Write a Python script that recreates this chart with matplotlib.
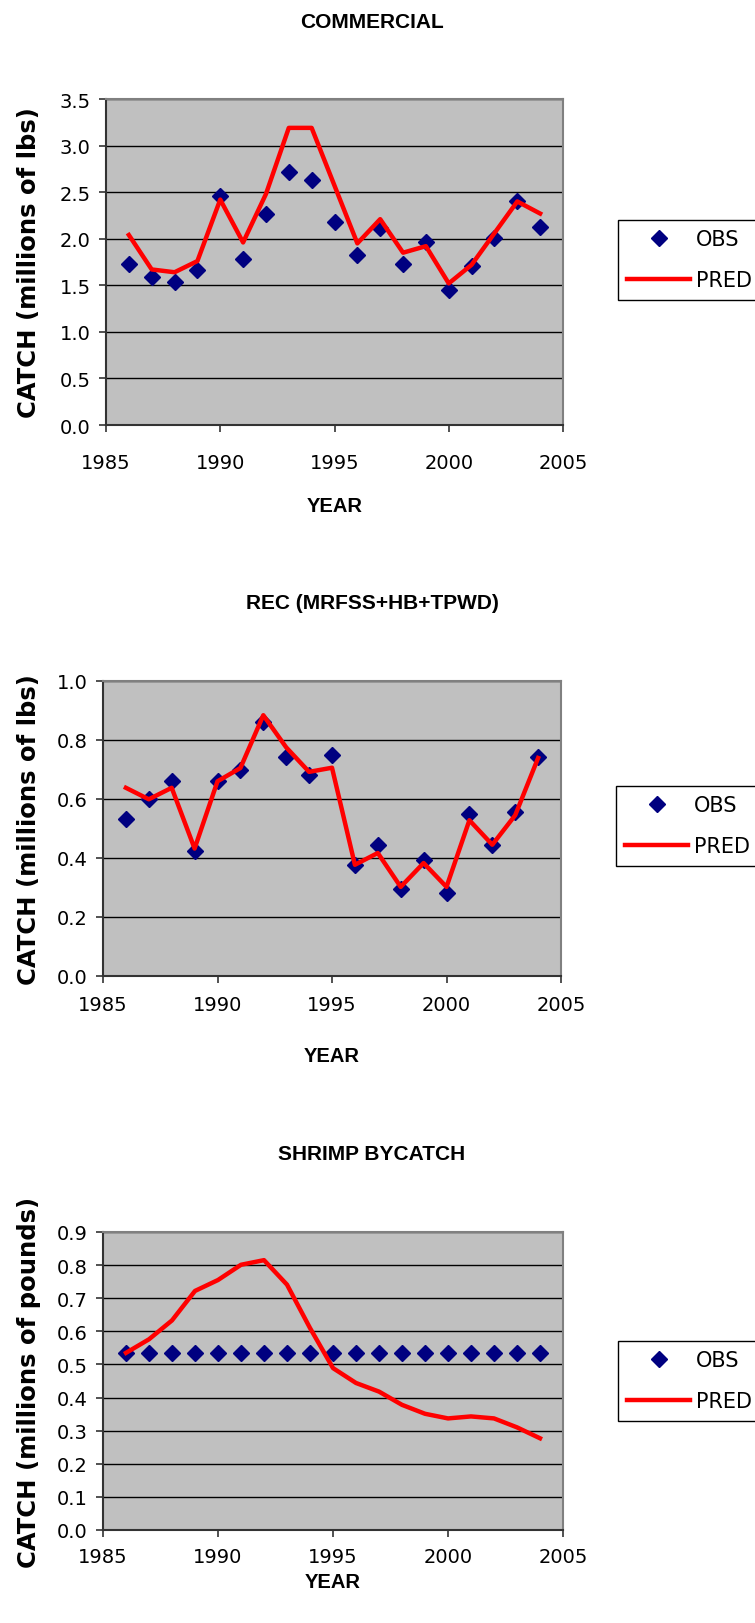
import matplotlib
matplotlib.use("Agg")
import matplotlib.pyplot as plt

years = [1986, 1987, 1988, 1989, 1990, 1991, 1992, 1993, 1994, 1995,
         1996, 1997, 1998, 1999, 2000, 2001, 2002, 2003, 2004]

comm_obs = [1.73, 1.59, 1.54, 1.66, 2.46, 1.78, 2.27, 2.72, 2.63, 2.18,
            1.82, 2.11, 1.73, 1.96, 1.45, 1.71, 2.01, 2.41, 2.13]
comm_pred = [2.04, 1.67, 1.64, 1.76, 2.42, 1.96, 2.48, 3.19, 3.19, 2.57,
             1.95, 2.21, 1.85, 1.92, 1.52, 1.72, 2.06, 2.40, 2.27]

rec_obs = [0.533, 0.599, 0.660, 0.423, 0.660, 0.697, 0.861, 0.742, 0.680, 0.748,
           0.375, 0.445, 0.296, 0.392, 0.281, 0.548, 0.445, 0.556, 0.741]
rec_pred = [0.638, 0.599, 0.638, 0.432, 0.660, 0.705, 0.884, 0.775, 0.692, 0.706,
            0.377, 0.417, 0.302, 0.383, 0.302, 0.528, 0.445, 0.545, 0.739]

shrimp_obs = [0.535, 0.535, 0.535, 0.535, 0.535, 0.535, 0.535, 0.535, 0.535, 0.535,
              0.535, 0.535, 0.535, 0.535, 0.535, 0.535, 0.535, 0.535, 0.535]
shrimp_pred = [0.535, 0.576, 0.633, 0.722, 0.755, 0.801, 0.815, 0.741, 0.610, 0.489,
               0.444, 0.418, 0.378, 0.351, 0.337, 0.343, 0.337, 0.310, 0.277]

W, H = 755, 1624
fig = plt.figure(figsize=(W / 100, H / 100), dpi=100)

# (title, ylabel, obs, pred, ymax, ystep, axes box in px [l, t, r, b],
#  title y, x tick pad, YEAR y, legend top-left px)
panels = [
    ("COMMERCIAL", "CATCH (millions of lbs)", comm_obs, comm_pred, 3.5, 0.5,
     (106, 100, 563, 426), 23, 15, 506, (618, 221)),
    ("REC (MRFSS+HB+TPWD)", "CATCH (millions of lbs)", rec_obs, rec_pred, 1.0, 0.2,
     (103, 682, 561, 977), 604, 9, 1057, (616, 787)),
    ("SHRIMP BYCATCH", "CATCH (millions of pounds)", shrimp_obs, shrimp_pred, 0.9, 0.1,
     (103, 1233, 563, 1531), 1154, 7, 1583, (618, 1342)),
]

for title, ylab, obs, pred, ymax, ystep, box, ty, xpad, yy, leg in panels:
    l, t, r, b = box
    ax = fig.add_axes([l / W, 1 - b / H, (r - l) / W, (b - t) / H])
    ax.set_facecolor("#C0C0C0")
    ax.plot(years, obs, linestyle="none", marker="D", markersize=8.5,
            color="#000080", label="OBS", zorder=3)
    ax.plot(years, pred, color="#FF0000", linewidth=3.2, label="PRED", zorder=4)
    ax.set_xlim(1985, 2005)
    ax.set_ylim(0, ymax)
    ax.set_xticks([1985, 1990, 1995, 2000, 2005])
    n = int(round(ymax / ystep))
    ax.set_yticks([i * ystep for i in range(n + 1)])
    ax.set_yticklabels(["%.1f" % (i * ystep) for i in range(n + 1)])
    ax.grid(axis="y", color="black", linewidth=1)
    ax.set_axisbelow(True)
    for s in ("top", "right"):
        ax.spines[s].set_color("#808080")
        ax.spines[s].set_linewidth(1.5)
    for s in ("left", "bottom"):
        ax.spines[s].set_color("#333333")
        ax.spines[s].set_linewidth(1.5)
    ax.tick_params(axis="both", direction="out", length=5, width=1.2,
                   color="#333333", labelsize=14)
    ax.tick_params(axis="y", pad=6)
    ax.tick_params(axis="x", pad=xpad)

    fig.text(372 / W, 1 - ty / H, title, ha="center", va="center",
             fontsize=15, fontweight="bold", family="Liberation Sans")
    fig.text((l + r) / 2 / W, 1 - yy / H, "YEAR", ha="center", va="center",
             fontsize=14.5, fontweight="bold", family="Liberation Sans")
    fig.text(29 / W, 1 - (t + b) / 2 / H, ylab, ha="center", va="center",
             rotation=90, fontsize=17.5, fontweight="bold")

    lg = ax.legend(loc="upper left", bbox_to_anchor=(leg[0] / W, 1 - leg[1] / H),
                   bbox_transform=fig.transFigure, fontsize=15, frameon=True,
                   fancybox=False, edgecolor="black", framealpha=1,
                   handlelength=3, handletextpad=0.3, labelspacing=1.0,
                   borderpad=0.45, borderaxespad=0)
    lg.get_frame().set_linewidth(1)

fig.savefig("out.png", dpi=100, facecolor="white")
